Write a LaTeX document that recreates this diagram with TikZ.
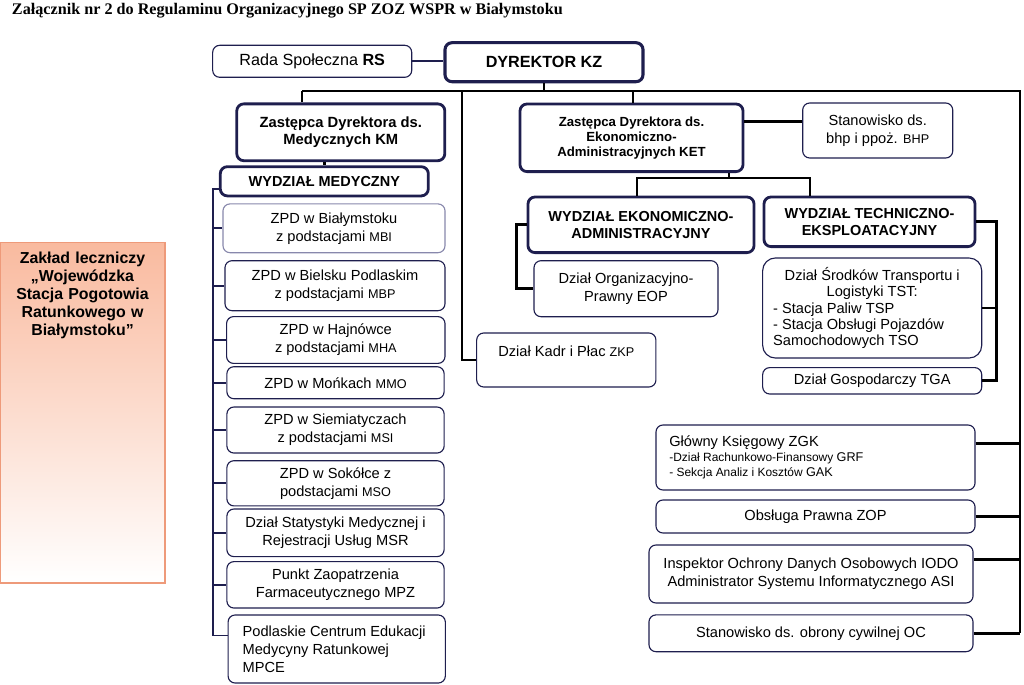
\documentclass[tikz,border=0pt]{standalone}
\usepackage{fontspec}
\setmainfont{Liberation Sans}
\newfontfamily\titlefont{Liberation Serif}
\usetikzlibrary{positioning}
\usepackage{xcolor}
\definecolor{navy}{HTML}{1E1E4E}
\definecolor{paleline}{HTML}{8888AC}
\definecolor{salmon}{HTML}{F8AE8E}
\definecolor{salmonline}{HTML}{EE9A7A}
\newcommand{\kod}[1]{{\fontsize{9}{12.8}\selectfont #1}}

\begin{document}
\begin{tikzpicture}[
    x=0.025cm, y=-0.025cm,
    unit/.style={
        draw=navy,
        line width=0.8pt,
        rounded corners=5pt,
        fill=white,
        align=center,
        inner sep=2pt,
        font=\fontsize{10.4}{12.8}\selectfont,
    },
    head/.style={
        unit,
        line width=2pt,
        font=\fontsize{10.3}{12}\selectfont\bfseries,
    },
    link/.style={line width=2pt, black},
    spine/.style={line width=1.2pt, navy},
]
\useasboundingbox (0,0) rectangle (1024,684);

% title
\node[anchor=base west, inner sep=0, font=\titlefont\bfseries\fontsize{11.5}{14}\selectfont] (title) at (11.7,15) {Załącznik nr 2 do Regulaminu Organizacyjnego SP ZOZ WSPR w Białymstoku};

% top
\node[unit, minimum width=4.975cm, minimum height=0.8cm, font=\fontsize{11.5}{13}\selectfont] (rs) at (312.2,61.3) {Rada Społeczna \textbf{RS}};
\node[head, line width=2.2pt, minimum width=4.95cm, minimum height=0.975cm, font=\fontsize{11.5}{13}\selectfont\bfseries] (dyr) at (544,62.2) {DYREKTOR KZ};

% zaklad
\node[draw=salmonline, line width=0.8pt, top color=salmon!85, middle color=salmon!14, bottom color=white, minimum width=4.125cm, minimum height=8.51cm] (zaklad) at (82.5,412.8) {};
\node[anchor=north, align=center, text width=3.9cm, inner sep=0, font=\fontsize{11.3}{12.8}\selectfont\bfseries] (zakladtxt) at ([yshift=-7pt]zaklad.north) {Zakład leczniczy\\ „Wojewódzka\\ Stacja Pogotowia\\ Ratunkowego w\\ Białymstoku”};

% pion medyczny
\node[head, font=\fontsize{10.5}{11.6}\selectfont\bfseries, minimum width=5.2cm, minimum height=1.42cm] (zdm) at (340.8,132.3) {Zastępca Dyrektora ds.\\ Medycznych KM};
\node[head, minimum width=5.2cm, minimum height=0.73cm] (wm) at (324.3,181.3) {WYDZIAŁ MEDYCZNY};

\node[unit, draw=paleline, minimum width=5.55cm, minimum height=1.22cm] (m1) at (334,228.3) {ZPD w Białymstoku\\ z podstacjami \kod{MBI}};
\node[unit, minimum width=5.5cm, minimum height=1.25cm] (m2) at (335,285.7) {ZPD w Bielsku Podlaskim\\ z podstacjami \kod{MBP}};
\node[unit, minimum width=5.46cm, minimum height=1.17cm] (m3) at (335.8,340) {ZPD w Hajnówce\\ z podstacjami \kod{MHA}};
\node[unit, minimum width=5.43cm, minimum height=0.8cm] (m4) at (335.5,382.7) {ZPD w Mońkach \kod{MMO}};
\node[unit, minimum width=5.43cm, minimum height=1.15cm] (m5) at (335.5,430) {ZPD w Siemiatyczach\\ z podstacjami \kod{MSI}};
\node[unit, minimum width=5.43cm, minimum height=1.13cm] (m6) at (335.5,483.3) {ZPD w Sokółce z\\ podstacjami \kod{MSO}};
\node[unit, minimum width=5.43cm, minimum height=1.19cm] (m7) at (335.5,532.8) {Dział Statystyki Medycznej i\\ Rejestracji Usług MSR};
\node[unit, minimum width=5.43cm, minimum height=1.16cm] (m8) at (335.5,584.8) {Punkt Zaopatrzenia\\ Farmaceutycznego MPZ};
\node[unit, align=flush left, text width=4.7cm, minimum width=5.43cm, minimum height=1.7cm] (m9) at (336.7,649) {Podlaskie Centrum Edukacji\\ Medycyny Ratunkowej\\ MPCE};

% pion ekonomiczny
\node[head, font=\fontsize{9.4}{10.7}\selectfont\bfseries, minimum width=5.575cm, minimum height=1.69cm] (ket) at (631.5,137.8) {Zastępca Dyrektora ds.\\ Ekonomiczno-\\ Administracyjnych KET};
\node[unit, minimum width=3.75cm, minimum height=1.375cm] (bhp) at (877.7,130.5) {Stanowisko ds.\\ bhp i ppoż. \kod{BHP}};
\node[head, minimum width=5.65cm, minimum height=1.39cm] (wea) at (641,224.8) {WYDZIAŁ EKONOMICZNO-\\ ADMINISTRACYJNY};
\node[head, minimum width=5.275cm, minimum height=1.24cm] (wte) at (869.5,221.8) {WYDZIAŁ TECHNICZNO-\\ EKSPLOATACYJNY};
\node[unit, minimum width=4.6cm, minimum height=1.4cm] (eop) at (626,288.7) {Dział Organizacyjno-\\ Prawny EOP};
\node[unit, minimum width=4.48cm, minimum height=1.35cm] (zkp) at (566.3,360) {Dział Kadr i Płac \kod{ZKP}\\ \mbox{}};
\node[unit, rounded corners=9pt, align=flush left, text width=4.95cm, minimum width=5.475cm, minimum height=2.5cm, font=\fontsize{10.4}{11.6}\selectfont] (tst) at (872.2,308) {\mbox{}\hfill Dział Środków Transportu i\hfill\mbox{}\\ \mbox{}\hfill Logistyki TST:\hfill\mbox{}\\ - Stacja Paliw TSP\\ - Stacja Obsługi Pojazdów\\ Samochodowych TSO};
\node[unit, minimum width=5.475cm, minimum height=0.66cm] (tga) at (872.2,380.8) {Dział Gospodarczy TGA};

% stanowiska przy dyrektorze
\node[unit, align=flush left, text width=7.31cm, minimum width=7.975cm, minimum height=1.625cm] (zgk) at (815.5,457.5) {Główny Księgowy ZGK\\[-2pt] {\fontsize{8.5}{10}\selectfont -Dział Rachunkowo-Finansowy \kod{GRF}}\\[-2pt] {\fontsize{8.5}{10}\selectfont - Sekcja Analiz i Kosztów \kod{GAK}}};
\node[unit, minimum width=7.975cm, minimum height=0.825cm] (zop) at (815.5,516.5) {Obsługa Prawna ZOP};
\node[unit, minimum width=8.1cm, minimum height=1.45cm] (iodo) at (811,574) {Inspektor Ochrony Danych Osobowych IODO\\ Administrator Systemu Informatycznego ASI};
\node[unit, minimum width=8.1cm, minimum height=0.92cm] (oc) at (811,633.3) {Stanowisko ds. obrony cywilnej OC};

% connectors
\coordinate (busL) at (302,91);
\coordinate (busM) at (462,91);
\coordinate (busK) at (633,91);
\coordinate (busR) at (1020,91);
\coordinate (spineM) at (212.7,188);
\coordinate (kL) at (637,178);
\coordinate (kM) at (729,178);
\coordinate (kR) at (810,178);
\coordinate (spineT) at (996.7,227);

\draw[spine] (rs.east) -- (rs.east -| dyr.west);
\draw[link] (dyr.south) -- (dyr.south |- busL);
\draw[link] (busL) -- (busR) -- (busR |- oc.east);
\draw[link] (busL) -- (busL |- zdm.north);
\draw[link] (busM) |- (zkp.west);
\draw[link] (busK) -- (busK |- ket.north);
\foreach \n in {zgk.5, zop.east, iodo.5, oc.east}
    \draw[link] (\n) -- (busR |- \n);

\draw[link] (zdm.south -| wm.north) -- (wm.north);
\draw[spine] (wm.184) -| (spineM |- m9.173) -- (m9.173);
\foreach \n in {m1,m2,m3,m4,m5,m6,m7,m8}
    \draw[spine] (spineM |- \n.west) -- (\n.west);

\draw[link] (ket.east |- bhp.173) -- (bhp.173);
\draw[link] (kM |- ket.south) -- (kM);
\draw[link] (kL |- wea.north) -- (kL) -- (kR) -- (kR |- wte.north);
\draw[link] (wea.west) -- ++(-10,0) |- (eop.west);
\draw[link] (wte.east) -| (spineT |- tga.east) -- (tga.east);
\draw[link] (tst.east) -- (spineT |- tst.east);

\end{tikzpicture}
\end{document}
